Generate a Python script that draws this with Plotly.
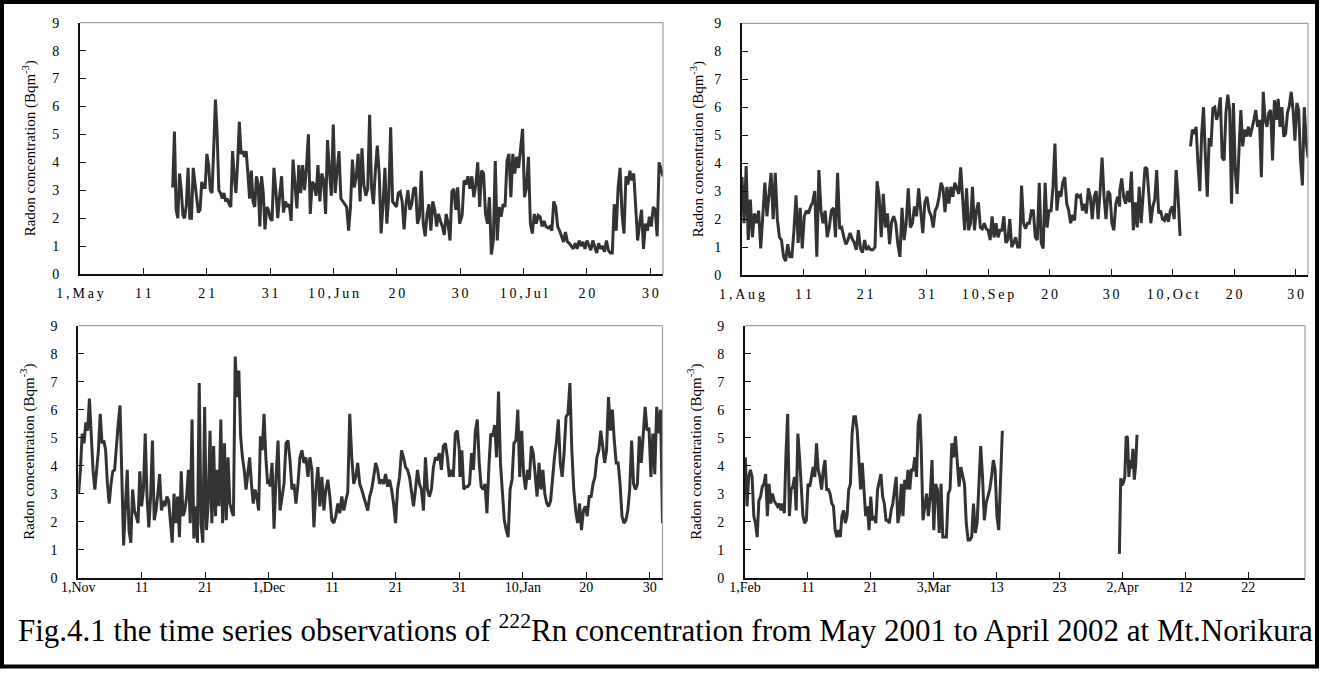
import pandas as pd
import plotly.graph_objects as go

W, H = 1320, 681
FONT = "Liberation Serif, Times New Roman, serif"

# ---------------- data (day offsets from panel start, values in Bq m^-3) ----------------
# Panel 1: May - Jul 2001
p1_start = "2001-05-01"
p1_a_days = (14.63, 30.0)
p1_a = [3.1, 5.1, 2.3, 2.0, 3.6, 3.0, 2.1, 2.0, 2.5, 3.8, 2.0, 2.0, 3.8, 3.2, 2.6, 2.2, 2.3, 3.3, 3.1, 3.1,
        4.3, 3.9, 3.0, 2.9, 4.5, 6.25, 5.0, 3.0, 2.9, 2.7, 2.9, 2.6, 2.7, 2.5, 2.4, 4.4, 3.5, 2.9, 4.0, 5.45,
        4.3, 4.4, 4.2, 4.4, 3.6, 2.7, 3.7, 2.6, 2.4, 3.5, 3.2, 1.7, 3.5, 2.9, 1.6, 2.4, 2.3, 2.0]
p1_b_days = (30.3, 59.9)
p1_b = [1.9, 3.8, 3.0, 2.0, 2.8, 3.5, 2.2, 2.6, 2.4, 2.5, 1.9, 4.1, 3.2, 2.35, 3.9, 2.9, 3.9, 3.0, 3.8, 5.0,
        2.15, 3.3, 3.2, 2.8, 3.9, 2.6, 3.6, 3.35, 2.15, 4.8, 3.7, 2.8, 5.35, 2.9, 3.7, 4.4, 2.7, 2.6, 2.5, 2.4,
        1.55, 2.4, 4.1, 3.1, 3.5, 4.3, 2.6, 4.5, 3.2, 2.8, 3.05, 5.7, 3.1, 2.5, 3.7, 4.6, 3.6, 1.45, 2.5, 3.8,
        1.8, 2.8, 5.25, 2.6, 2.5, 2.4, 2.9, 2.95, 2.6, 1.6, 2.5, 3.0, 2.3, 2.5, 3.05, 3.1, 1.8, 2.05, 3.7, 1.8,
        1.35, 2.15, 2.5, 1.55, 2.6, 2.3, 1.7, 2.15, 1.9, 1.7, 1.4, 2.15, 1.8, 1.2, 2.95, 3.05, 2.3, 3.1, 1.8]
p1_c_days = (60.3, 92.0)
p1_c = [2.1, 3.35, 3.2, 3.5, 3.05, 3.5, 2.75, 3.2, 4.0, 2.4, 3.7, 3.6, 2.15, 1.8, 2.75, 0.7, 1.2, 4.05, 1.2, 2.4,
        2.05, 2.5, 2.4, 4.05, 4.3, 2.75, 4.3, 3.6, 4.2, 3.8, 4.55, 5.2, 2.75, 3.1, 4.2, 1.8, 1.45, 2.15, 1.8, 2.1,
        2.05, 1.7, 1.9, 1.7, 1.65, 1.7, 1.55, 2.6, 2.4, 1.7, 1.55, 1.35, 1.15, 1.5, 1.15, 1.1, 1.0, 0.9, 1.1, 0.9,
        1.2, 1.0, 1.15, 0.9, 1.2, 1.05, 0.85, 1.2, 1.0, 0.75, 1.1, 0.9, 1.0, 0.8, 1.2, 0.85, 0.75, 0.75, 2.5, 1.55,
        3.1, 3.8, 2.15, 1.45, 3.5, 3.2, 3.7, 3.35, 3.6, 2.3, 1.2, 1.8, 2.3, 0.9, 1.8, 1.55, 2.05, 1.7, 2.4, 2.3,
        1.35, 4.0, 3.7, 3.5]

# Panel 2: Aug - Oct 2001
p2_start = "2001-08-01"
p2_a_days = (0.0, 30.4)
p2_a = [3.5, 1.85, 3.9, 1.25, 2.7, 1.35, 2.2, 1.85, 2.3, 0.95, 2.1, 3.3, 2.1, 2.8, 3.65, 2.0, 3.65, 2.0, 1.35, 1.25,
        0.65, 0.5, 1.1, 0.65, 0.65, 1.6, 2.85, 1.15, 2.4, 0.95, 2.1, 2.3, 2.2, 2.45, 2.6, 3.0, 0.65, 3.75, 2.3, 1.85,
        2.3, 1.35, 1.7, 2.3, 2.4, 1.35, 3.65, 1.65, 1.7, 1.35, 1.1, 1.25, 1.5, 1.3, 1.15, 0.9, 1.6, 0.95, 0.8, 1.25,
        0.9, 1.0, 0.9, 0.9, 1.0, 3.35, 2.8, 1.35, 2.9, 1.7, 2.2, 1.1, 1.9, 2.1, 1.85, 1.1, 0.65, 2.4, 1.25, 1.85,
        3.1, 1.7, 1.85, 2.45, 2.1, 3.1, 2.3, 1.5, 2.6, 2.8, 2.3]
p2_b_days = (30.76, 61.4)
p2_b = [2.1, 1.7, 2.3, 2.45, 2.8, 3.3, 3.1, 2.25, 3.15, 2.55, 3.15, 2.8, 3.3, 3.1, 2.9, 3.85, 2.8, 1.6, 3.1, 1.6,
        1.85, 3.15, 1.6, 2.3, 2.6, 1.7, 1.65, 1.85, 1.65, 1.6, 1.25, 2.1, 1.35, 1.85, 1.35, 1.6, 1.6, 2.1, 1.15, 1.25,
        2.0, 1.0, 1.15, 1.35, 1.0, 1.0, 3.2, 1.85, 1.65, 1.85, 1.85, 2.3, 2.3, 1.35, 1.25, 3.3, 1.15, 0.95, 3.3, 1.7,
        2.3, 2.3, 3.15, 4.7, 2.3, 3.0, 2.8, 3.3, 3.5, 2.55, 2.3, 1.85, 2.15, 1.95, 2.9, 2.8, 2.85, 2.3, 2.55, 2.2,
        3.1, 2.8, 2.0, 2.8, 3.0, 2.0, 3.0, 4.2, 2.8, 2.0, 3.0, 2.9, 1.85, 1.6, 2.55, 2.8, 2.45]
p2_c_days = (61.4, 71.2)
p2_c = [3.0, 3.45, 2.8, 2.55, 3.0, 2.6, 3.7, 1.6, 2.6, 1.7, 3.15, 1.85, 2.85, 3.85, 3.8, 2.8, 1.85, 2.45, 2.7, 3.75,
        2.2, 2.3, 2.0, 1.95, 2.2, 1.9, 2.3, 2.45, 2.0, 3.75, 2.8, 1.4]
p2_d_days = (72.9, 92.0)
p2_d = [4.6, 5.2, 5.05, 5.3, 4.0, 3.0, 5.05, 6.0, 4.2, 2.8, 4.9, 4.6, 5.95, 6.0, 5.55, 5.8, 6.35, 4.2, 4.1, 5.8,
        6.45, 5.9, 2.55, 6.15, 3.75, 2.9, 4.45, 5.9, 4.6, 5.2, 4.95, 5.3, 4.95, 5.2, 5.55, 5.9, 5.3, 5.55, 3.5, 6.55,
        5.55, 5.3, 5.8, 5.9, 4.1, 6.25, 5.55, 6.3, 5.3, 6.0, 4.95, 5.05, 5.8, 6.05, 6.55, 5.9, 4.8, 6.15, 5.9, 4.1,
        3.2, 6.0, 4.8, 4.2]

# Panel 3: Nov 2001 - Jan 2002
p3_start = "2001-11-01"
p3_a_days = (0.05, 30.1)
p3_a = [3.0, 3.85, 5.15, 4.8, 5.55, 5.25, 6.4, 5.05, 3.85, 3.15, 3.85, 4.55, 5.85, 4.8, 4.9, 4.55, 3.35, 2.65, 3.35, 3.8,
        3.85, 4.8, 5.5, 6.15, 3.85, 1.15, 2.55, 3.85, 1.7, 1.25, 3.15, 2.4, 2.2, 1.95, 3.8, 2.55, 3.15, 5.15, 2.9, 1.8,
        2.9, 4.9, 2.05, 2.4, 3.0, 3.7, 2.4, 2.75, 2.55, 2.9, 2.75, 1.95, 1.25, 3.0, 1.95, 2.9, 1.45, 3.8, 2.2, 2.4,
        2.9, 3.85, 1.95, 5.65, 1.4, 2.55, 1.25, 6.95, 1.95, 1.25, 6.1, 1.7, 2.65, 5.25, 1.95, 4.7, 2.2, 3.85, 2.55, 5.65,
        1.95, 4.8, 2.05, 4.3, 2.65, 2.4, 2.2, 7.9, 6.45, 7.4, 5.05, 4.3, 3.85, 3.15, 3.7, 4.3, 3.35, 2.65, 3.15, 2.9,
        2.4, 5.05, 4.55, 5.85, 4.3, 3.35, 3.5]
p3_b_days = (30.2, 60.0)
p3_b = [3.25, 4.1, 1.75, 3.6, 4.9, 2.4, 2.9, 3.35, 4.8, 4.9, 4.2, 3.15, 3.35, 2.65, 3.35, 4.3, 4.55, 4.1, 4.3, 3.6,
        4.3, 3.85, 1.8, 3.15, 3.95, 2.55, 3.6, 2.4, 3.15, 3.5, 2.9, 2.05, 1.95, 2.2, 2.65, 2.3, 2.9, 2.4, 2.75, 3.05,
        5.85, 4.3, 3.35, 3.6, 4.1, 3.35, 3.15, 2.9, 2.65, 2.4, 2.9, 3.15, 3.6, 4.1, 3.85, 3.35, 3.5, 3.35, 3.7, 3.25,
        3.5, 3.15, 2.65, 1.95, 3.15, 3.6, 4.55, 4.3, 3.95, 3.85, 3.6, 3.15, 2.55, 3.15, 3.85, 3.35, 3.15, 2.4, 4.3, 3.15,
        2.9, 3.15, 3.95, 4.3, 4.2, 4.45, 3.85, 4.7, 4.8, 4.3, 3.6, 3.85, 3.6, 5.15, 5.25, 4.55]
p3_c_days = (60.1, 92.0)
p3_c = [3.6, 4.55, 3.15, 3.25, 3.25, 3.35, 4.45, 3.85, 5.25, 5.65, 4.1, 3.25, 3.15, 3.35, 2.3, 3.95, 5.15, 5.05, 5.45, 4.3,
        6.65, 4.1, 3.15, 2.05, 1.7, 1.45, 3.15, 3.5, 4.8, 4.9, 6.0, 3.6, 5.25, 3.7, 3.15, 3.85, 3.5, 4.7, 4.45, 3.6,
        2.9, 4.1, 3.15, 3.85, 3.0, 2.65, 2.55, 2.75, 3.6, 4.3, 4.85, 5.65, 4.1, 3.6, 4.45, 5.75, 5.85, 6.95, 4.55, 3.15,
        2.4, 1.95, 2.65, 1.7, 2.4, 2.55, 2.2, 2.9, 2.9, 3.35, 3.6, 4.3, 4.55, 5.25, 4.7, 4.1, 4.55, 6.45, 5.25, 6.0,
        4.9, 4.1, 4.1, 3.35, 2.2, 1.95, 2.05, 2.4, 3.15, 4.9, 3.35, 3.15, 3.35, 5.05, 4.1, 5.15, 6.1, 5.25, 5.35, 3.6,
        5.15, 3.7, 6.1, 5.15, 6.0, 1.95]

# Panel 4: Feb - Apr 2002
p4_start = "2002-02-01"
p4_a_days = (0.05, 27.8)
p4_a = [4.3, 2.55, 3.6, 3.85, 3.6, 2.2, 1.95, 1.45, 2.75, 2.9, 3.25, 3.35, 3.7, 2.2, 3.35, 2.65, 3.0, 2.75, 2.65, 2.55,
        2.65, 2.4, 2.65, 2.3, 4.45, 5.85, 2.2, 3.15, 3.25, 3.6, 2.4, 5.15, 4.3, 3.15, 2.2, 1.95, 2.05, 3.35, 3.25, 3.6,
        3.95, 3.6, 4.8, 3.85, 3.6, 3.15, 3.85, 4.2, 3.15, 3.15, 3.0, 2.65, 2.55, 1.7, 1.45, 1.7, 1.45, 2.2, 2.4, 1.95,
        2.2, 3.15, 3.35, 5.15, 5.75, 5.75, 5.25, 4.2, 3.15, 4.1, 3.25, 2.2, 2.55, 1.7, 2.9, 2.05, 2.2, 1.95, 3.15, 3.5,
        3.7, 2.9, 2.65, 2.05, 2.05, 1.95, 2.4, 2.65, 3.15, 3.6, 1.95, 2.3, 3.35, 2.2, 3.5, 3.15, 3.85, 3.15, 3.85, 3.85,
        4.3, 3.6, 5.5, 5.85]
p4_b_days = (28.0, 40.9)
p4_b = [4.7, 2.05, 2.55, 3.0, 2.2, 2.9, 4.2, 1.7, 3.35, 3.15, 1.6, 3.35, 1.45, 1.45, 1.45, 3.0, 3.15, 4.8, 4.3, 5.05,
        4.3, 3.25, 3.95, 3.7, 3.35, 1.95, 1.35, 1.35, 1.45, 2.65, 1.6, 1.95, 3.6, 4.7, 3.6, 2.05, 2.65, 2.9, 3.15, 3.6,
        4.2, 3.85, 2.2, 1.7, 3.6, 5.25]
p4_c_days = (59.5, 62.3)
p4_c = [0.85, 3.55, 3.3, 3.4, 3.6, 5.05, 5.0, 3.6, 4.2, 3.9, 4.6, 3.5, 4.0, 5.1]

# tick dates and labels
p1_ticks = ["2001-05-01", "2001-05-11", "2001-05-21", "2001-05-31", "2001-06-10", "2001-06-20", "2001-06-30",
            "2001-07-10", "2001-07-20", "2001-07-30"]
p1_labels = ["1,May", "11", "21", "31", "10,Jun", "20", "30", "10,Jul", "20", "30"]
p2_ticks = ["2001-08-01", "2001-08-11", "2001-08-21", "2001-08-31", "2001-09-10", "2001-09-20", "2001-09-30",
            "2001-10-10", "2001-10-20", "2001-10-30"]
p2_labels = ["1,Aug", "11", "21", "31", "10,Sep", "20", "30", "10,Oct", "20", "30"]
p3_ticks = ["2001-11-01", "2001-11-11", "2001-11-21", "2001-12-01", "2001-12-11", "2001-12-21", "2001-12-31",
            "2002-01-10", "2002-01-20", "2002-01-30"]
p3_labels = ["1,Nov", "11", "21", "1,Dec", "11", "21", "31", "10,Jan", "20", "30"]
p4_ticks = ["2002-02-01", "2002-02-11", "2002-02-21", "2002-03-03", "2002-03-13", "2002-03-23", "2002-04-02",
            "2002-04-12", "2002-04-22"]
p4_labels = ["1,Feb", "11", "21", "3,Mar", "13", "23", "2,Apr", "12", "22"]

ranges = [("2001-05-01", "2001-08-01"), ("2001-08-01", "2001-11-01"),
          ("2001-11-01", "2002-02-01"), ("2002-02-01", "2002-05-01")]


def build(start, segs, breaks):
    """Spread each reading list evenly between its start/end day; break the line only where data are missing."""
    base = pd.Timestamp(start)
    xs, ys = [], []
    for k, ((d0, d1), vals) in enumerate(segs):
        if k in breaks:
            xs.append(None)
            ys.append(None)
        t = pd.date_range(base + pd.Timedelta(days=d0), base + pd.Timedelta(days=d1), periods=len(vals))
        xs += [s.strftime("%Y-%m-%d %H:%M:%S") for s in t]
        ys += list(vals)
    return xs, ys


panels = [
    build(p1_start, [(p1_a_days, p1_a), (p1_b_days, p1_b), (p1_c_days, p1_c)], []),
    build(p2_start, [(p2_a_days, p2_a), (p2_b_days, p2_b), (p2_c_days, p2_c), (p2_d_days, p2_d)], [3]),
    build(p3_start, [(p3_a_days, p3_a), (p3_b_days, p3_b), (p3_c_days, p3_c)], []),
    build(p4_start, [(p4_a_days, p4_a), (p4_b_days, p4_b), (p4_c_days, p4_c)], [2]),
]


def spaced(s):
    # the upper panels' date labels are letter-spaced in the original
    return "\u2009".join(s)


# ---------------- layout geometry (pixels) ----------------
boxes = [  # x0, x1, ytop, ybottom
    (80, 663, 22.7, 274),
    (742, 1308, 23.3, 275),
    (78.3, 662.5, 325.7, 577.7),
    (745, 1305, 325.7, 577.7),
]
title_x = [29, 697, 28, 695]

fig = go.Figure()
ticks = [(p1_ticks, [spaced(s) for s in p1_labels]), (p2_ticks, [spaced(s) for s in p2_labels]),
         (p3_ticks, p3_labels), (p4_ticks, p4_labels)]
shapes = []
annotations = []
for i, ((xs, ys), (x0, x1, yt, yb)) in enumerate(zip(panels, boxes)):
    n = "" if i == 0 else str(i + 1)
    fig.add_trace(go.Scatter(x=xs, y=ys, mode="lines", connectgaps=False,
                             line=dict(color="#333333", width=3),
                             xaxis="x" + n, yaxis="y" + n, showlegend=False, hoverinfo="skip"))
    xd = [x0 / W, x1 / W]
    yd = [1 - yb / H, 1 - yt / H]
    top = i < 2
    fig.layout["xaxis" + n] = dict(
        domain=xd, anchor="y" + n, type="date", range=list(ranges[i]), automargin=False,
        tickvals=ticks[i][0], ticktext=ticks[i][1],
        showline=True, linecolor="#111", linewidth=2, ticks="inside", ticklen=6, tickwidth=1.3,
        tickcolor="#111", showgrid=False, zeroline=False, ticklabelstandoff=(5 if top else -5),
        tickfont=dict(family=FONT, size=14, color="black"),
    )
    fig.layout["yaxis" + n] = dict(
        domain=yd, anchor="x" + n, range=[0, 9], tickvals=list(range(10)), automargin=False,
        showline=True, linecolor="#111", linewidth=2, ticks="inside", ticklen=6, tickwidth=1.3,
        tickcolor="#111", showgrid=False, zeroline=False, ticklabelstandoff=16,
        tickfont=dict(family=FONT, size=14, color="black"),
    )
    shapes.append(dict(type="line", xref="paper", yref="paper", x0=xd[0], x1=xd[1], y0=yd[1], y1=yd[1],
                       line=dict(color="#a0a0a0", width=1.2)))
    shapes.append(dict(type="line", xref="paper", yref="paper", x0=xd[1], x1=xd[1], y0=yd[0], y1=yd[1],
                       line=dict(color="#a0a0a0", width=1.2)))
    annotations.append(dict(text="Radon concentration (Bqm<sup>-3</sup>)", textangle=-90,
                            x=title_x[i] / W, y=1 - (yt + yb) / 2 / H, xref="paper", yref="paper",
                            xanchor="center", yanchor="middle",
                            showarrow=False, font=dict(family=FONT, size=15, color="black")))

shapes.append(dict(type="rect", xref="paper", yref="paper", x0=2 / W, x1=1 - 3 / W, y0=1 - 666.5 / H,
                   y1=1 - 2 / H, line=dict(color="black", width=4)))
annotations.append(dict(
    text="Fig.4.1 the time series observations of <sup>222</sup>Rn concentration from May 2001 to April 2002 at Mt.Norikura",
    x=665 / W, y=1 - 628 / H, xref="paper", yref="paper", xanchor="center", yanchor="middle", showarrow=False,
    font=dict(family=FONT, size=31, color="black")))

fig.update_layout(width=W, height=H, margin=dict(l=0, r=0, t=0, b=0, pad=0, autoexpand=False),
                  paper_bgcolor="white", plot_bgcolor="white", template="none",
                  shapes=shapes, annotations=annotations, showlegend=False)
fig.write_html("out.html")
